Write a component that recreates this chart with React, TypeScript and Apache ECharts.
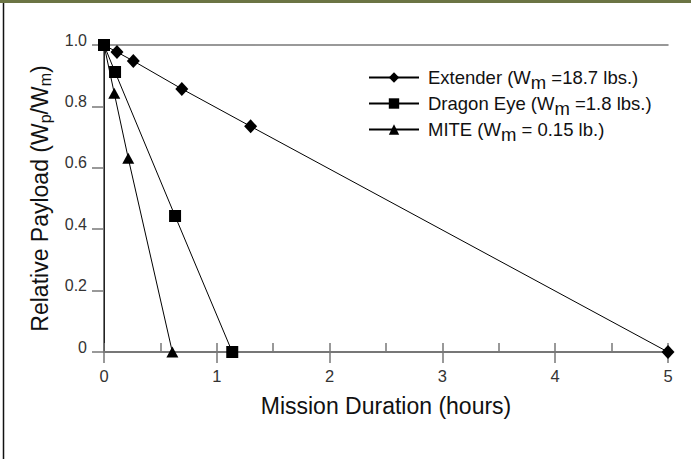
import React, { useEffect, useRef } from "react";
import * as echarts from "echarts";

const seriesNames = ["Extender", "Dragon Eye", "MITE"];
const legendLabels = [
  "{f|Extender (W}{s|m}{n| =18.7 lbs.)}",
  "{f|Dragon Eye (W}{s|m}{n| =1.8 lbs.)}",
  "{f|MITE (W}{s|m}{n| = 0.15 lb.)}",
];

const extenderHours = [0, 0.115, 0.26, 0.69, 1.3, 5.0];
const extenderPayload = [1.0, 0.977, 0.948, 0.857, 0.735, 0];

const dragonHours = [0, 0.098, 0.63, 1.137];
const dragonPayload = [1.0, 0.912, 0.443, 0];

const miteHours = [0, 0.091, 0.215, 0.606];
const mitePayload = [1.0, 0.843, 0.631, 0];

const xTickLabels = ["0", "1", "2", "3", "4", "5"];
const yTickLabels = ["0", "0.2", "0.4", "0.6", "0.8", "1.0"];

const FONT = "'Liberation Sans', Arial, Helvetica, sans-serif";
const AXIS_GREY = "#777777";

function buildData(hours: number[], payload: number[], hideFirst: boolean) {
  return hours.map((h, i) => {
    const item: any = { value: [h, payload[i]] };
    if (hideFirst && i === 0) item.symbol = "none";
    return item;
  });
}

export default function App() {
  const ref = useRef<HTMLDivElement>(null);

  useEffect(() => {
    if (!ref.current) return;
    const chart = echarts.init(ref.current, null, { renderer: "svg" });
    const option: any = {
      animation: false,
      backgroundColor: "#ffffff",
      textStyle: { fontFamily: FONT },
      graphic: [
        {
          type: "rect",
          shape: { x: 0, y: 0, width: 691, height: 3 },
          style: { fill: "#6b7444" },
          silent: true,
        },
        {
          type: "line",
          shape: { x1: 3.5, y1: 3, x2: 3.5, y2: 459 },
          style: { stroke: "#111111", lineWidth: 1.5 },
          silent: true,
        },
      ],
      grid: { left: 104, top: 45, right: 23, bottom: 107, containLabel: false },
      legend: {
        orient: "vertical",
        left: 368,
        top: 63,
        padding: 0,
        itemWidth: 50,
        itemHeight: 13,
        itemGap: -3,
        selectedMode: false,
        formatter: (name: string) => legendLabels[seriesNames.indexOf(name)],
        textStyle: {
          color: "#111111",
          fontFamily: FONT,
          fontSize: 18.5,
          rich: {
            f: { fontSize: 18.5, lineHeight: 20, padding: [0, 0, 0, 4], fontFamily: FONT, color: "#111" },
            n: { fontSize: 18.5, lineHeight: 20, fontFamily: FONT, color: "#111" },
            s: { fontSize: 18.5, lineHeight: 20, padding: [10, 0, 0, 0], fontFamily: FONT, color: "#111" },
          },
        },
      },
      xAxis: [
        {
          type: "value",
          min: 0,
          max: 5,
          interval: 1,
          name: "Mission Duration (hours)",
          nameLocation: "middle",
          nameGap: 42,
          nameTextStyle: { fontSize: 23, color: "#111", fontFamily: FONT },
          axisLine: { show: true, lineStyle: { color: AXIS_GREY, width: 2 } },
          axisTick: { show: true, length: 11, lineStyle: { color: AXIS_GREY, width: 1.5 } },
          axisLabel: {
            margin: 15,
            fontSize: 16.5,
            color: "#333",
            fontFamily: FONT,
            formatter: (v: number) => xTickLabels[Math.round(v)],
          },
          splitLine: { show: false },
        },
        {
          type: "value",
          position: "bottom",
          min: 0,
          max: 5,
          interval: 0.5,
          axisLine: { show: false },
          axisTick: { show: true, inside: true, length: 9, lineStyle: { color: AXIS_GREY, width: 1.5 } },
          axisLabel: { show: false },
          splitLine: { show: false },
        },
        {
          type: "value",
          position: "top",
          min: 0,
          max: 5,
          axisLine: { show: true, lineStyle: { color: AXIS_GREY, width: 1.5 } },
          axisTick: { show: false },
          axisLabel: { show: false },
          splitLine: { show: false },
        },
      ],
      yAxis: [
        {
          type: "value",
          min: 0,
          max: 1,
          interval: 0.2,
          name: "{n|Relative Payload (W}{s|p}{n|/W}{s|m}{n|)}",
          nameLocation: "middle",
          nameRotate: 90,
          nameGap: 49,
          nameTextStyle: {
            fontFamily: FONT,
            color: "#111",
            rich: {
              n: { fontSize: 23, lineHeight: 24, fontFamily: FONT, color: "#111" },
              s: { fontSize: 16, lineHeight: 16, padding: [12, 0, 0, 0], fontFamily: FONT, color: "#111" },
            },
          },
          axisLine: { show: true, lineStyle: { color: AXIS_GREY, width: 2 } },
          axisTick: { show: true, length: 12, lineStyle: { color: AXIS_GREY, width: 1.5 } },
          axisLabel: {
            margin: 17,
            fontSize: 16,
            color: "#333",
            fontFamily: FONT,
            verticalAlign: "bottom",
            lineHeight: 10,
            formatter: (v: number) => yTickLabels[Math.round(v * 5)],
          },
          splitLine: { show: false },
        },
        {
          type: "value",
          position: "right",
          min: 0,
          max: 1,
          axisLine: { show: true, lineStyle: { color: "#222", width: 1 } },
          axisTick: { show: false },
          axisLabel: { show: false },
          splitLine: { show: false },
        },
      ],
      series: [
        {
          name: seriesNames[0],
          type: "line",
          xAxisIndex: 0,
          yAxisIndex: 0,
          data: buildData(extenderHours, extenderPayload, true),
          symbol: "diamond",
          symbolSize: [13, 14],
          lineStyle: { color: "#000", width: 1 },
          itemStyle: { color: "#000" },
          clip: false,
          z: 2,
        },
        {
          name: seriesNames[1],
          type: "line",
          xAxisIndex: 0,
          yAxisIndex: 0,
          data: buildData(dragonHours, dragonPayload, false),
          symbol: "rect",
          symbolSize: 12,
          lineStyle: { color: "#000", width: 1 },
          itemStyle: { color: "#000" },
          clip: false,
          z: 4,
        },
        {
          name: seriesNames[2],
          type: "line",
          xAxisIndex: 0,
          yAxisIndex: 0,
          data: buildData(miteHours, mitePayload, true),
          symbol: "triangle",
          symbolSize: [12, 11],
          lineStyle: { color: "#000", width: 1 },
          itemStyle: { color: "#000" },
          clip: false,
          z: 3,
        },
      ],
    };
    chart.setOption(option);
    return () => chart.dispose();
  }, []);

  return (
    <div
      ref={ref}
      style={{ position: "absolute", left: 0, top: 0, width: 691, height: 459 }}
    />
  );
}
